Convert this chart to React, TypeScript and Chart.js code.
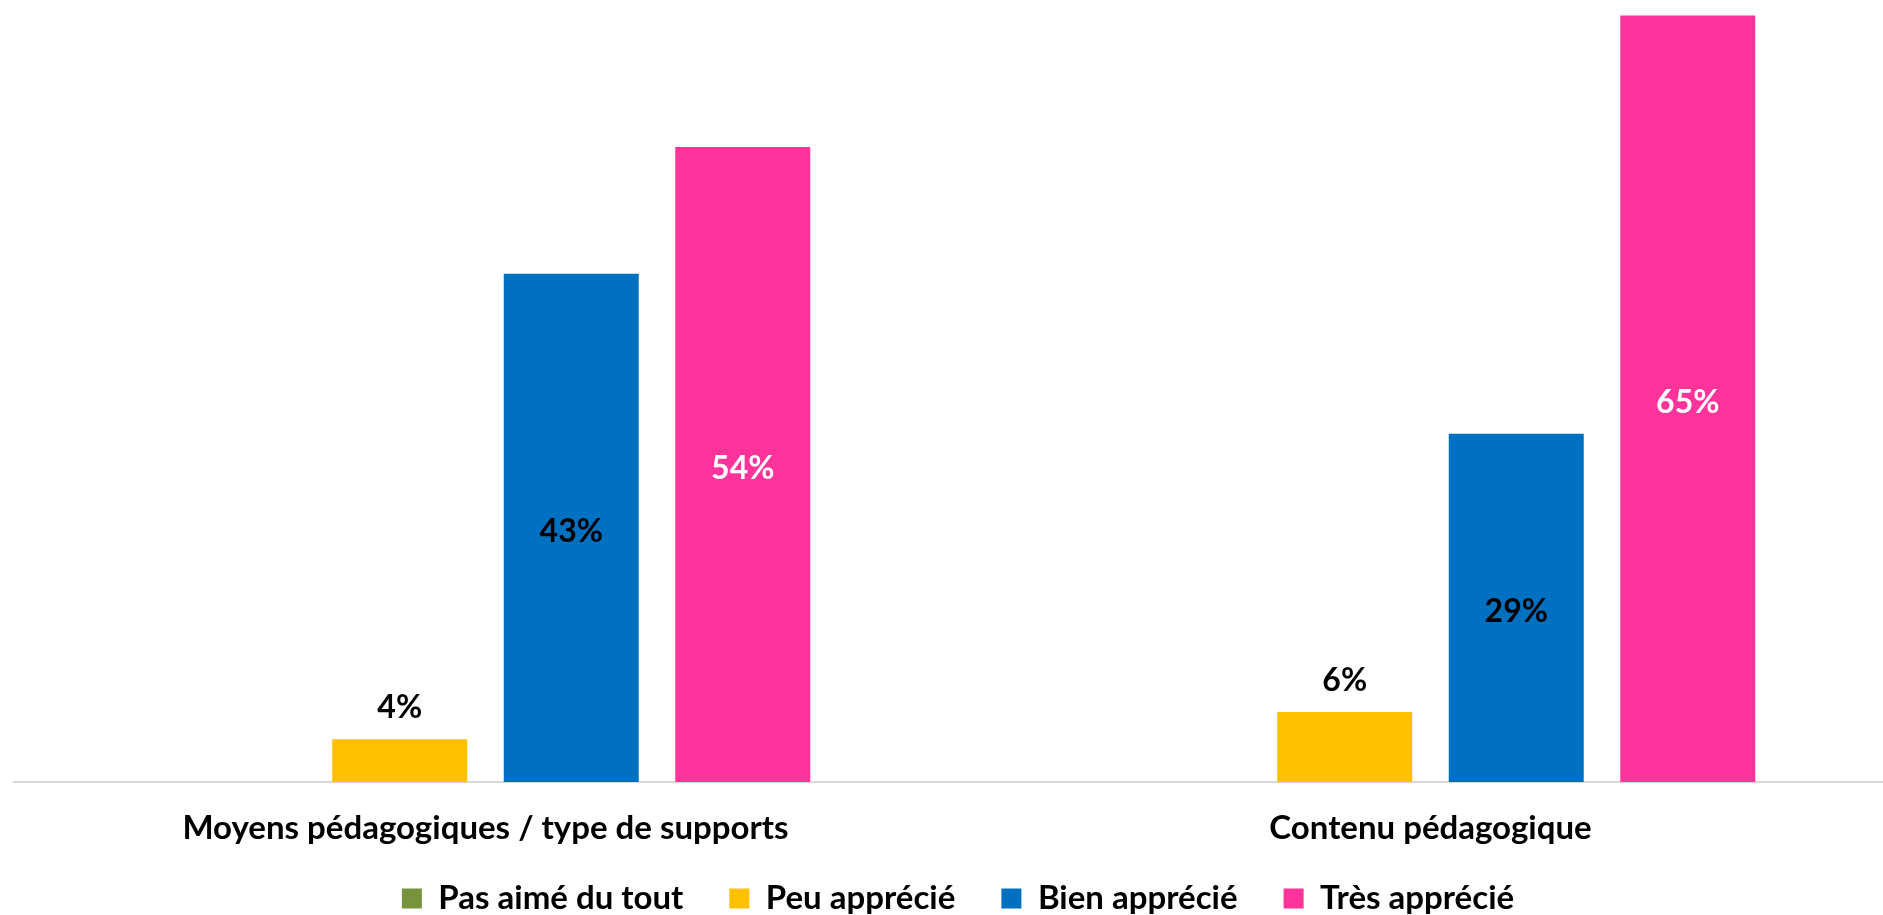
import React, { useEffect, useRef } from "react";
import { Chart, registerables } from "chart.js";

Chart.register(...registerables);

const categories = ["Moyens pédagogiques / type de supports", "Contenu pédagogique"];
const seriesNames = ["Pas aimé du tout", "Peu apprécié", "Bien apprécié", "Très apprécié"];
const pasAime = [0, 0];
const peuApprecie = [3.6, 5.9];
const bienApprecie = [42.9, 29.4];
const tresApprecie = [53.6, 64.7];
const seriesColors = ["#77933C", "#FFC000", "#0070C0", "#FF3399"];
const labelColors = ["#000000", "#000000", "#000000", "#FFFFFF"];

const FONT = "Lato, 'Open Sans', sans-serif";

const dataLabels = {
  id: "dataLabels",
  afterDatasetsDraw(chart: any) {
    const ctx = chart.ctx;
    ctx.save();
    ctx.font = `bold 32px ${FONT}`;
    ctx.textAlign = "center";
    chart.data.datasets.forEach((ds: any, di: number) => {
      const meta = chart.getDatasetMeta(di);
      meta.data.forEach((bar: any, i: number) => {
        const v = ds.data[i];
        if (!v) return;
        const text = Math.round(v) + "%";
        ctx.fillStyle = labelColors[di];
        if (di === 1) {
          ctx.textBaseline = "alphabetic";
          ctx.fillText(text, bar.x, bar.y - 21);
        } else {
          ctx.textBaseline = "middle";
          ctx.fillText(text, bar.x, (bar.y + bar.base) / 2 + 4);
        }
      });
    });
    ctx.restore();
  },
};

export default function App() {
  const ref = useRef<HTMLCanvasElement>(null);
  useEffect(() => {
    if (!ref.current) return;
    const values = [pasAime, peuApprecie, bienApprecie, tresApprecie];
    const chart = new Chart(ref.current, {
      type: "bar",
      data: {
        labels: categories,
        datasets: seriesNames.map((name, i) => ({
          label: name,
          data: values[i],
          backgroundColor: seriesColors[i],
          borderWidth: 0,
          categoryPercentage: 0.726,
          barPercentage: 0.787,
        })),
      },
      options: {
        responsive: false,
        animation: false,
        devicePixelRatio: 1,
        layout: { padding: 0 },
        scales: {
          x: {
            grid: { display: false, drawTicks: false },
            border: { display: true, color: "#D9D9D9", width: 2 },
            ticks: {
              color: "#000000",
              font: { family: FONT, size: 33, weight: "bold" },
              padding: 27,
              maxRotation: 0,
              autoSkip: false,
            },
            afterFit: (scale: any) => {
              scale.height = 70;
            },
          },
          y: {
            display: false,
            min: 0,
            max: 66,
          },
        },
        plugins: {
          legend: {
            position: "bottom",
            labels: {
              color: "#000000",
              font: { family: FONT, size: 33, weight: "bold" },
              boxWidth: 20,
              boxHeight: 20,
              padding: 30,
              generateLabels: (c: any) => {
                const items = Chart.defaults.plugins.legend.labels.generateLabels(c);
                return items.map((it: any, i: number) => ({
                  ...it,
                  text: i < items.length - 1 ? it.text + "  " : it.text,
                }));
              },
            },
          },
          tooltip: { enabled: false },
        },
      },
      plugins: [dataLabels],
    });
    return () => chart.destroy();
  }, []);

  return (
    <div
      style={{
        position: "fixed",
        left: 0,
        top: 0,
        width: 1883,
        height: 915,
        overflow: "hidden",
        background: "#ffffff",
      }}
    >
      <canvas
        ref={ref}
        width={1890}
        height={925}
        style={{ position: "absolute", left: 13, top: 0, width: 1890, height: 925 }}
      />
    </div>
  );
}
